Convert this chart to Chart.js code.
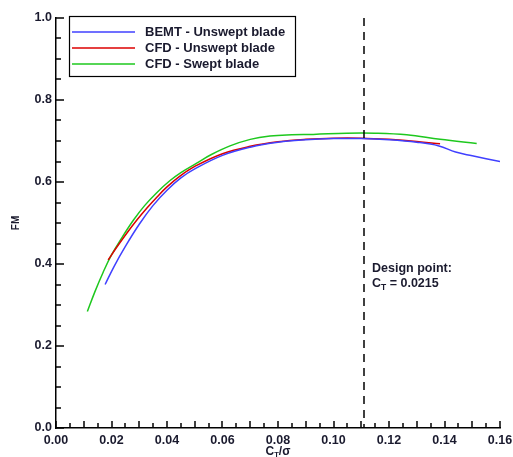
<!DOCTYPE html>
<html>
<head>
<meta charset="utf-8">
<script src="https://cdn.jsdelivr.net/npm/chart.js@4/dist/chart.umd.min.js"></script>
<style>
    html, body { margin: 0; padding: 0; background: #fff; }
    #wrap { width: 513px; height: 457px; }
</style>
</head>
<body>
<div id="wrap"><canvas id="fm_chart" width="513" height="457"></canvas></div>
<script>
// Figure of merit vs CT/sigma
var bemtX = [0.0177, 0.021, 0.025, 0.030, 0.035, 0.04, 0.045, 0.05, 0.06, 0.07, 0.08, 0.09, 0.10, 0.11, 0.12, 0.13, 0.138, 0.144, 0.15, 0.16]
var bemtY = [0.350, 0.395, 0.443, 0.497, 0.543, 0.580, 0.610, 0.632, 0.665, 0.685, 0.697, 0.703, 0.706, 0.706, 0.703, 0.697, 0.688, 0.673, 0.664, 0.650]

var cfdX = [0.0188, 0.022, 0.0255, 0.029, 0.0327, 0.0365, 0.04, 0.045, 0.05, 0.06, 0.07, 0.08, 0.09, 0.10, 0.11, 0.12, 0.13, 0.1384]
var cfdY = [0.410, 0.442, 0.475, 0.506, 0.536, 0.564, 0.588, 0.616, 0.638, 0.669, 0.687, 0.698, 0.704, 0.707, 0.707, 0.704, 0.699, 0.693]

var sweptX = [0.0113, 0.014, 0.017, 0.020, 0.024, 0.028, 0.032, 0.0363, 0.041, 0.045, 0.0507, 0.056, 0.0627, 0.07, 0.0771, 0.085, 0.0927, 0.1047, 0.115, 0.1264, 0.1384, 0.1516]
var sweptY = [0.284, 0.332, 0.380, 0.422, 0.467, 0.508, 0.543, 0.574, 0.603, 0.623, 0.646, 0.667, 0.688, 0.704, 0.712, 0.715, 0.716, 0.719, 0.719, 0.715, 0.704, 0.694]

var labels = ['BEMT - Unswept blade', 'CFD - Unswept blade', 'CFD - Swept blade']
var colors = ['rgb(64,64,255)', 'rgb(220,0,0)', 'rgb(30,200,30)']

var designX = 0.111
var designText = ['Design point:', 'C', 'T', ' = 0.0215']

var font = '"Liberation Sans", Arial, sans-serif'
var ink = '#1a1a2e'

function pts(xs, ys) {
    return xs.map(function (x, i) { return {x: x, y: ys[i]} })
}

// Inward tick marks, dashed design line, legend box, x title
var decor = {
    id: 'decor',
    afterDatasetsDraw: function (chart) {
        var ctx = chart.ctx
        var xs = chart.scales.x
        var ys = chart.scales.y
        var area = chart.chartArea
        var v, px

        ctx.save()
        ctx.strokeStyle = '#000'
        ctx.lineWidth = 1.5

        for (v = 0; v <= 0.1601; v += 0.005) {
            px = Math.round(xs.getPixelForValue(v))
            var big = Math.abs(v / 0.01 - Math.round(v / 0.01)) < 1e-6
            ctx.beginPath()
            ctx.moveTo(px, area.bottom)
            ctx.lineTo(px, area.bottom - (big ? 7 : 5))
            ctx.stroke()
        }
        for (v = 0; v <= 1.0001; v += 0.05) {
            px = Math.round(ys.getPixelForValue(v))
            var major = Math.abs(v / 0.2 - Math.round(v / 0.2)) < 1e-6
            ctx.beginPath()
            ctx.moveTo(area.left, px)
            ctx.lineTo(area.left + (major ? 8 : 5), px)
            ctx.stroke()
        }

        // Design point line
        px = Math.round(xs.getPixelForValue(designX))
        ctx.setLineDash([8, 6])
        ctx.beginPath()
        ctx.moveTo(px, area.top)
        ctx.lineTo(px, area.bottom)
        ctx.stroke()
        ctx.setLineDash([])

        // Design point label
        ctx.fillStyle = ink
        ctx.font = 'bold 12.5px ' + font
        ctx.textBaseline = 'middle'
        var tx = px + 8
        var ty = ys.getPixelForValue(0.39)
        ctx.fillText(designText[0], tx, ty)
        ty = ys.getPixelForValue(0.353)
        ctx.fillText(designText[1], tx, ty)
        var w = ctx.measureText(designText[1]).width
        ctx.font = 'bold 8.5px ' + font
        ctx.fillText(designText[2], tx + w, ty + 4)
        var w2 = ctx.measureText(designText[2]).width
        ctx.font = 'bold 12.5px ' + font
        ctx.fillText(designText[3], tx + w + w2, ty)

        // Legend
        var lx = area.left + 13
        var ly = area.top - 2
        ctx.strokeStyle = '#000'
        ctx.lineWidth = 1.2
        ctx.strokeRect(lx + 0.5, ly + 0.5, 226, 60)
        ctx.font = 'bold 13px ' + font
        chart.data.datasets.forEach(function (ds, i) {
            var ry = ly + 16 + i * 16
            ctx.strokeStyle = ds.borderColor
            ctx.lineWidth = 1.5
            ctx.beginPath()
            ctx.moveTo(lx + 3, ry)
            ctx.lineTo(lx + 66, ry)
            ctx.stroke()
            ctx.fillStyle = ink
            ctx.fillText(ds.label, lx + 76, ry)
        })

        // X axis title
        var cx = (area.left + area.right) / 2
        var by = area.bottom + 24
        ctx.font = 'bold 12px ' + font
        ctx.textAlign = 'left'
        var wC = ctx.measureText('C').width
        ctx.font = 'bold 7.5px ' + font
        var wT = ctx.measureText('T').width
        ctx.font = 'bold 12px ' + font
        var wS = ctx.measureText('/σ').width
        var sx = cx - (wC + wT + wS) / 2
        ctx.fillText('C', sx, by)
        ctx.font = 'bold 7.5px ' + font
        ctx.fillText('T', sx + wC, by + 3)
        ctx.font = 'bold 12px ' + font
        ctx.fillText('/σ', sx + wC + wT, by)

        ctx.restore()
    }
}

var ctx = document.getElementById('fm_chart')

new Chart(ctx, {
    type: 'scatter',
    data: {
        datasets: [
            {label: labels[0], data: pts(bemtX, bemtY), borderColor: colors[0]},
            {label: labels[1], data: pts(cfdX, cfdY), borderColor: colors[1]},
            {label: labels[2], data: pts(sweptX, sweptY), borderColor: colors[2]}
        ]
    },
    options: {
        responsive: false,
        animation: false,
        showLine: true,
        layout: {padding: {left: 10, right: 13, top: 18, bottom: 0}},
        elements: {
            point: {radius: 0},
            line: {borderWidth: 1.5, tension: 0.4}
        },
        plugins: {
            legend: {display: false},
            tooltip: {enabled: false}
        },
        scales: {
            x: {
                type: 'linear',
                min: 0,
                max: 0.16,
                afterFit: function (scale) {
                    scale.height = 29
                    scale.paddingLeft = 0
                    scale.paddingRight = 0
                },
                grid: {display: true, drawOnChartArea: false, drawTicks: false},
                border: {display: true, color: '#000', width: 1.5},
                ticks: {
                    stepSize: 0.02,
                    padding: 5,
                    color: ink,
                    font: {family: font, size: 12.5, weight: 'bold'},
                    callback: function (v) { return v.toFixed(2) }
                }
            },
            y: {
                min: 0,
                max: 1,
                afterFit: function (scale) { scale.width = 46 },
                grid: {display: true, drawOnChartArea: false, drawTicks: false},
                border: {display: true, color: '#000', width: 1.5},
                title: {
                    display: true,
                    text: 'FM',
                    color: ink,
                    padding: {top: 0, bottom: 10},
                    font: {family: font, size: 10, weight: 'bold'}
                },
                ticks: {
                    stepSize: 0.2,
                    padding: 4,
                    color: ink,
                    font: {family: font, size: 12.5, weight: 'bold'},
                    callback: function (v) { return v.toFixed(1) }
                }
            }
        }
    },
    plugins: [decor]
})
</script>
</body>
</html>
